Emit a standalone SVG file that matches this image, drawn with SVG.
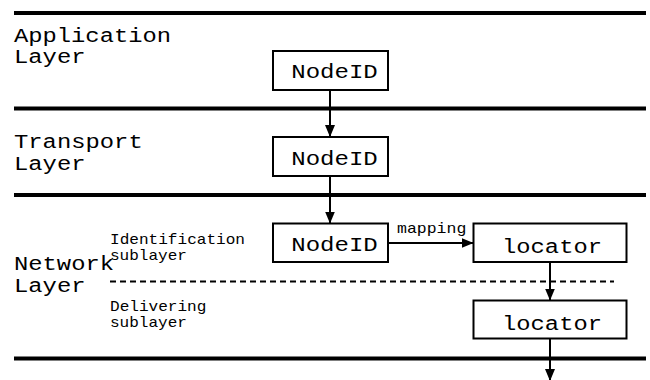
<svg xmlns="http://www.w3.org/2000/svg" width="650" height="380" viewBox="0 0 650 380">
<style>
.sep{stroke:#000;stroke-width:4;fill:none}
.dash{stroke:#000;stroke-width:2;stroke-dasharray:6 4;fill:none}
.box{fill:#fff;stroke:#000;stroke-width:2}
.big{font-family:"Liberation Mono",monospace;font-size:20px;fill:#000}
.small{font-family:"Liberation Mono",monospace;font-size:15px;fill:#000}
.conn{stroke:#000;stroke-width:2;fill:none;marker-end:url(#ah)}
</style>
<defs>
<marker id="ah" markerUnits="userSpaceOnUse" markerWidth="12" markerHeight="12" viewBox="0 0 12 10" refX="12" refY="5" orient="auto">
<path d="M0,0 L12,5 L0,10 Z" fill="#000"/>
</marker>
</defs>
<rect width="650" height="380" fill="#fff"/>
<g id="layers">
<line class="sep" x1="14" y1="13" x2="646" y2="13"/>
<line class="sep" x1="14" y1="108.5" x2="646" y2="108.5"/>
<line class="sep" x1="14" y1="195" x2="646" y2="195"/>
<line class="sep" x1="14" y1="358.5" x2="646" y2="358.5"/>
<line class="dash" x1="110" y1="281.5" x2="614" y2="281.5"/>
</g>
<g id="labels">
<text class="big" x="14" y="42" textLength="157" lengthAdjust="spacingAndGlyphs">Application</text>
<text class="big" x="14" y="63" textLength="71.5" lengthAdjust="spacingAndGlyphs">Layer</text>
<text class="big" x="14" y="148" textLength="128.7" lengthAdjust="spacingAndGlyphs">Transport</text>
<text class="big" x="14" y="170" textLength="71.5" lengthAdjust="spacingAndGlyphs">Layer</text>
<text class="big" x="14" y="270" textLength="100" lengthAdjust="spacingAndGlyphs">Network</text>
<text class="big" x="14" y="292" textLength="71.5" lengthAdjust="spacingAndGlyphs">Layer</text>
<text class="small" x="110" y="244" textLength="135" lengthAdjust="spacingAndGlyphs">Identification</text>
<text class="small" x="110" y="260" textLength="77" lengthAdjust="spacingAndGlyphs">sublayer</text>
<text class="small" x="110" y="311" textLength="96.4" lengthAdjust="spacingAndGlyphs">Delivering</text>
<text class="small" x="110" y="327" textLength="77" lengthAdjust="spacingAndGlyphs">sublayer</text>
</g>
<g id="app-nodeid">
<rect class="box" x="273" y="51" width="115" height="39"/>
<text class="big" x="334.5" y="78" text-anchor="middle" textLength="86.5" lengthAdjust="spacingAndGlyphs">NodeID</text>
</g>
<g id="transport-nodeid">
<rect class="box" x="273" y="137" width="115" height="39"/>
<text class="big" x="334.5" y="164.5" text-anchor="middle" textLength="86.5" lengthAdjust="spacingAndGlyphs">NodeID</text>
</g>
<g id="network-nodeid">
<rect class="box" x="273" y="223.5" width="115" height="38.5"/>
<text class="big" x="334.5" y="251" text-anchor="middle" textLength="86.5" lengthAdjust="spacingAndGlyphs">NodeID</text>
</g>
<g id="locator-id">
<rect class="box" x="473.5" y="223.5" width="153" height="38.5"/>
<text class="big" x="552" y="253" text-anchor="middle" textLength="100" lengthAdjust="spacingAndGlyphs">locator</text>
</g>
<g id="locator-deliver">
<rect class="box" x="473.5" y="300.5" width="153" height="38"/>
<text class="big" x="552" y="329.5" text-anchor="middle" textLength="100" lengthAdjust="spacingAndGlyphs">locator</text>
</g>
<g id="connectors">
<line class="conn" x1="330" y1="90" x2="330" y2="137"/>
<line class="conn" x1="330" y1="176" x2="330" y2="223.5"/>
<line class="conn" x1="388" y1="243" x2="473.5" y2="243"/>
<line class="conn" x1="550" y1="262" x2="550" y2="300.5"/>
<line class="conn" x1="550" y1="338.5" x2="550" y2="381"/>
<text class="small" x="397" y="233" textLength="69.3" lengthAdjust="spacingAndGlyphs">mapping</text>
</g>
</svg>
